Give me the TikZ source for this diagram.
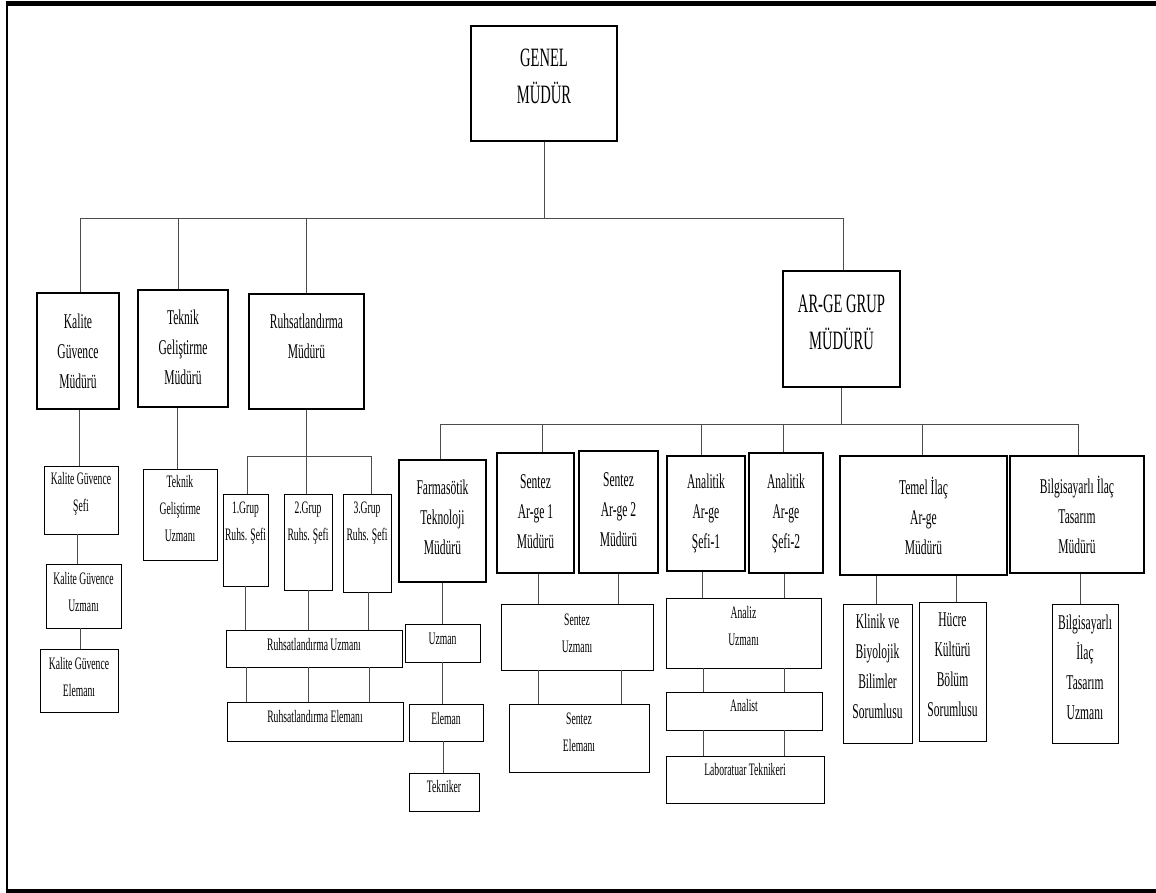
\documentclass[tikz,border=0pt]{standalone}
\usepackage{fontspec}
\setmainfont{Liberation Serif}[FakeStretch=0.55]
\usetikzlibrary{fit}

\begin{document}
\begin{tikzpicture}[x=1pt, y=-1pt,
	bx/.style={draw, line width=1.6pt, inner sep=0pt},
	sb/.style={draw, line width=0.8pt, inner sep=0pt},
	ln/.style={draw=black!70, line width=0.9pt},
	tl/.style={align=center, inner sep=0pt, font=\fontsize{26.5}{37}\selectfont},
	tm/.style={align=center, inner sep=0pt, font=\fontsize{21}{30}\selectfont},
	ts/.style={align=center, inner sep=0pt, font=\fontsize{17.5}{27}\selectfont}]
	\useasboundingbox (0,0) rectangle (1156,893);
	% page frame
	\draw[line width=4.5pt] (6,3.5) -- (1156,3.5);
	\draw[line width=2pt] (7,1) -- (7,893);
	\draw[line width=3.5pt] (6,891) -- (1156,891);
	% top level
	\node[bx, fit={(471,26) (617,141)}, label={[tl,yshift=7pt]center:{GENEL\\MÜDÜR}}] (gm) {};
	\node[bx, fit={(37,293) (119,409)}, label={[tm]center:{Kalite\\Güvence\\Müdürü}}] (kgm) {};
	\node[bx, fit={(138,290) (228,407)}, label={[tm,yshift=1pt]center:{Teknik\\Geliştirme\\Müdürü}}] (tgm) {};
	\node[bx, fit={(249,294) (364,409)}, label={[tm,yshift=15pt]center:{Ruhsatlandırma\\Müdürü}}] (rm) {};
	\node[bx, fit={(783,271) (900,387)}, label={[tl,yshift=7pt]center:{AR-GE GRUP\\MÜDÜRÜ}}] (agm) {};
	% kalite and teknik
	\node[sb, fit={(44,466) (118,534)}, label={[ts,yshift=6pt]center:{Kalite Güvence\\Şefi}}] (ks) {};
	\node[sb, fit={(46,564) (121,628)}, label={[ts,yshift=3.5pt]center:{Kalite Güvence\\Uzmanı}}] (ku) {};
	\node[sb, fit={(40,649) (118,712)}, label={[ts,yshift=3pt]center:{Kalite Güvence\\Elemanı}}] (ke) {};
	\node[sb, fit={(143,469) (217,560)}, label={[ts,yshift=5.5pt]center:{Teknik\\Geliştirme\\Uzmanı}}] (tu) {};
	% ruhsat
	\node[sb, fit={(223,494) (268,586)}, label={[ts,yshift=17pt]center:{1.Grup\\Ruhs. Şefi}}] (g1) {};
	\node[sb, fit={(284,494) (332,590)}, label={[ts,yshift=19pt]center:{2.Grup\\Ruhs. Şefi}}] (g2) {};
	\node[sb, fit={(343,494) (391,592)}, label={[ts,yshift=20pt]center:{3.Grup\\Ruhs. Şefi}}] (g3) {};
	\node[sb, fit={(226,630) (402,667)}, label={[ts,yshift=3.5pt]center:Ruhsatlandırma Uzmanı}] (ru) {};
	\node[sb, fit={(227,702) (403,741)}, label={[ts,yshift=5pt]center:Ruhsatlandırma Elemanı}] (re) {};
	% ar-ge
	\node[bx, fit={(399,460) (486,582)}, label={[tm,yshift=3.5pt]center:{Farmasötik\\Teknoloji\\Müdürü}}] (fm) {};
	\node[sb, fit={(405,624) (480,662)}, label={[ts,yshift=4.5pt]center:Uzman}] (fu) {};
	\node[sb, fit={(409,704) (483,741)}, label={[ts,yshift=4pt]center:Eleman}] (fe) {};
	\node[sb, fit={(409,773) (479,811)}, label={[ts,yshift=5pt]center:Tekniker}] (ft) {};
	\node[bx, fit={(497,453) (574,573)}, label={[tm,yshift=1pt]center:{Sentez\\Ar-ge 1\\Müdürü}}] (s1) {};
	\node[bx, fit={(579,451) (658,573)}, label={[tm,yshift=2pt]center:{Sentez\\Ar-ge 2\\Müdürü}}] (s2) {};
	\node[sb, fit={(501,604) (653,670)}, label={[ts,yshift=4pt]center:{Sentez\\Uzmanı}}] (su) {};
	\node[sb, fit={(509,704) (649,772)}, label={[ts,yshift=6pt]center:{Sentez\\Elemanı}}] (se) {};
	\node[bx, fit={(667,456) (745,571)}, label={[tm]center:{Analitik\\Ar-ge\\Şefi-1}}] (a1) {};
	\node[bx, fit={(749,453) (823,573)}, label={[tm]center:{Analitik\\Ar-ge\\Şefi-2}}] (a2) {};
	\node[sb, fit={(666,598) (821,668)}, label={[ts,yshift=7pt]center:{Analiz\\Uzmanı}}] (au) {};
	\node[sb, fit={(666,692) (822,730)}, label={[ts,yshift=5pt]center:Analist}] (an) {};
	\node[sb, fit={(666,756) (824,803)}, label={[ts,yshift=10pt]center:Laboratuar Teknikeri}] (lt) {};
	\node[bx, fit={(840,456) (1007,575)}, label={[tm]center:{Temel İlaç\\Ar-ge\\Müdürü}}] (tmm) {};
	\node[bx, fit={(1010,456) (1144,573)}, label={[tm]center:{Bilgisayarlı İlaç\\Tasarım\\Müdürü}}] (bm) {};
	\node[sb, fit={(843,604) (912,743)}, label={[tm,yshift=7pt]center:{Klinik ve\\Biyolojik\\Bilimler\\Sorumlusu}}] (kb) {};
	\node[sb, fit={(919,602) (986,741)}, label={[tm,yshift=7pt]center:{Hücre\\Kültürü\\Bölüm\\Sorumlusu}}] (hk) {};
	\node[sb, fit={(1052,604) (1118,743)}, label={[tm,yshift=6pt]center:{Bilgisayarlı\\İlaç\\Tasarım\\Uzmanı}}] (bu) {};
	% buses
	\coordinate (b1) at (544,218);
	\coordinate (b2) at (306.5,456);
	\coordinate (b3) at (841.5,424);
	\draw[ln] (gm.south) -- (b1);
	\foreach \n/\d in {kgm/2, tgm/-5, rm/0, agm/1.5} {\draw[ln] ([xshift=\d pt]\n.north) |- (b1);}
	\draw[ln] (rm.south) -- (b2);
	\foreach \n/\d in {g1/1.5, g2/-2, g3/4} {\draw[ln] ([xshift=\d pt]\n.north) |- (b2);}
	\draw[ln] (agm.south) -- (b3);
	\foreach \n/\d in {fm/-2.5, s1/6.5, a1/-5, a2/-3, tmm/-1.5, bm/1} {\draw[ln] ([xshift=\d pt]\n.north) |- (b3);}
	% links down
	\foreach \a/\b/\d in {kgm/ks/1, ks/ku/-4, ku/ke/-3.5, tgm/tu/-6, g1/ru/0, g2/ru/0, g3/ru/1,
		ru/re/-68, ru/re/-6, ru/re/55, fm/fu/0, fu/fe/0, fe/ft/-3, s1/su/2.5, s2/su/0,
		su/se/-39, su/se/44, a1/au/-4, a2/au/-2, au/an/-40.5, au/an/40.5, an/lt/-41, an/lt/40,
		tmm/kb/-47.5, tmm/hk/32.5, bm/bu/3}
		{\draw[ln] ([xshift=\d pt]\a.south) -- ([xshift=\d pt]\a.south |- \b.north);}
\end{tikzpicture}
\end{document}
